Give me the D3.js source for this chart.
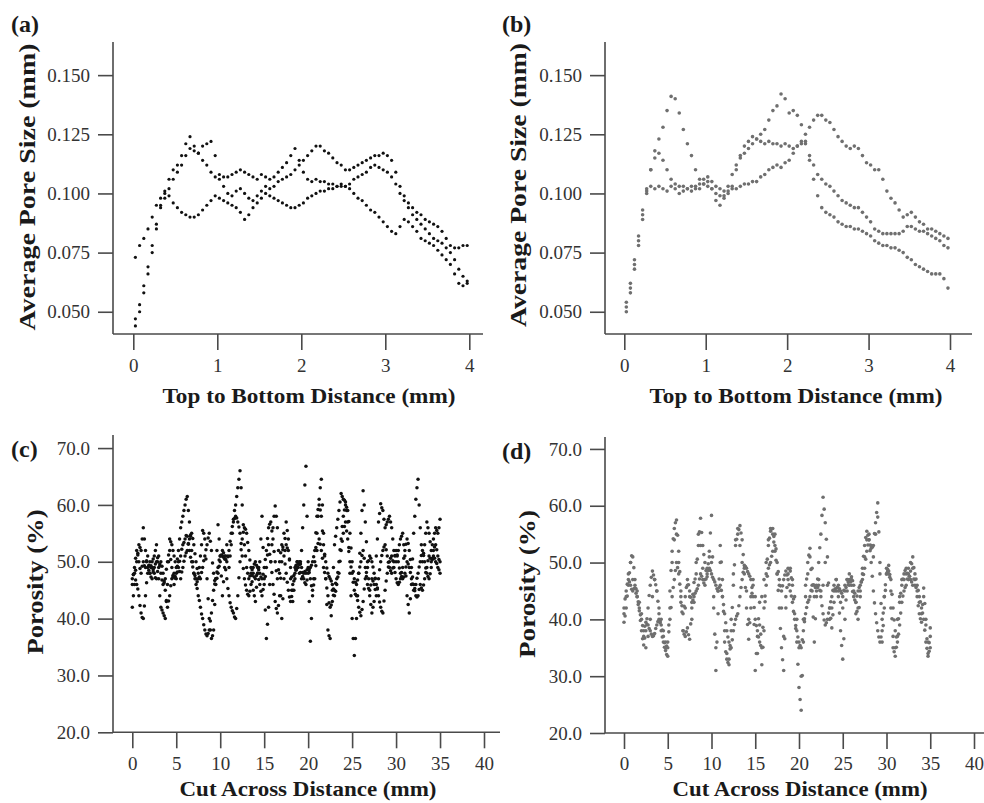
<!DOCTYPE html>
<html><head><meta charset="utf-8">
<script src="https://cdn.jsdelivr.net/npm/d3@7"></script>
<style>body{margin:0;background:#fff}svg{display:block}</style>
</head><body>
<svg id="chart" width="984" height="803"></svg>
<script>
// ---------- DATA ----------
// Panels (a),(b): sampled every 0.05 mm starting at 0.025 mm
const poreXStart = 0.025, poreXStep = 0.05;
const poreA1 = [0.044,0.050,0.058,0.066,0.075,0.085,0.095,0.101,0.106,0.110,0.112,0.116,0.121,0.124,0.120,0.117,0.114,0.112,0.109,0.107,
0.106,0.107,0.107,0.108,0.109,0.110,0.109,0.108,0.107,0.106,0.108,0.107,0.106,0.107,0.109,0.111,0.113,0.116,0.119,0.114,
0.109,0.106,0.105,0.106,0.105,0.105,0.104,0.104,0.103,0.104,0.103,0.102,0.100,0.098,0.097,0.095,0.093,0.092,0.090,0.088,
0.086,0.084,0.083,0.086,0.089,0.088,0.086,0.084,0.081,0.080,0.079,0.078,0.076,0.074,0.072,0.070,0.066,0.062,0.061,0.063];
const poreA2 = [0.047,0.053,0.061,0.069,0.078,0.087,0.094,0.098,0.102,0.106,0.109,0.112,0.116,0.119,0.118,0.117,0.120,0.121,0.122,0.116,
0.108,0.103,0.100,0.099,0.101,0.102,0.100,0.098,0.097,0.099,0.101,0.103,0.102,0.103,0.105,0.106,0.107,0.108,0.110,0.112,
0.114,0.116,0.118,0.120,0.120,0.118,0.117,0.115,0.113,0.112,0.110,0.110,0.111,0.112,0.113,0.114,0.115,0.116,0.116,0.117,
0.116,0.114,0.109,0.103,0.099,0.096,0.094,0.092,0.091,0.089,0.088,0.087,0.086,0.084,0.081,0.078,0.077,0.077,0.078,0.078];
const poreA3 = [0.073,0.078,0.081,0.085,0.090,0.095,0.098,0.100,0.099,0.096,0.094,0.092,0.091,0.090,0.090,0.091,0.093,0.095,0.097,0.099,
0.098,0.097,0.096,0.095,0.094,0.092,0.089,0.091,0.094,0.096,0.098,0.100,0.099,0.098,0.097,0.096,0.095,0.094,0.094,0.095,
0.096,0.098,0.099,0.100,0.101,0.101,0.102,0.102,0.103,0.103,0.103,0.104,0.106,0.107,0.108,0.109,0.111,0.112,0.111,0.110,
0.109,0.107,0.104,0.100,0.097,0.094,0.091,0.089,0.087,0.085,0.083,0.081,0.080,0.079,0.077,0.075,0.072,0.068,0.065,0.062];
const poreB1 = [0.050,0.058,0.068,0.078,0.089,0.100,0.110,0.118,0.123,0.128,0.135,0.141,0.140,0.134,0.127,0.121,0.116,0.110,0.106,0.104,
0.103,0.102,0.100,0.099,0.099,0.101,0.102,0.102,0.103,0.104,0.104,0.105,0.105,0.107,0.108,0.110,0.111,0.112,0.111,0.113,
0.114,0.117,0.120,0.121,0.121,0.116,0.112,0.108,0.106,0.104,0.103,0.101,0.099,0.097,0.096,0.095,0.094,0.094,0.092,0.090,
0.088,0.085,0.084,0.083,0.083,0.083,0.083,0.083,0.084,0.086,0.086,0.085,0.084,0.084,0.083,0.082,0.081,0.080,0.078,0.077];
const poreB2 = [0.052,0.060,0.070,0.080,0.091,0.102,0.110,0.115,0.117,0.114,0.110,0.106,0.104,0.103,0.101,0.102,0.103,0.102,0.104,0.106,
0.105,0.102,0.097,0.095,0.098,0.103,0.108,0.112,0.115,0.117,0.119,0.121,0.123,0.125,0.127,0.131,0.135,0.137,0.142,0.140,
0.134,0.135,0.133,0.129,0.122,0.114,0.106,0.099,0.094,0.092,0.091,0.090,0.088,0.087,0.086,0.086,0.085,0.085,0.084,0.083,
0.082,0.080,0.079,0.078,0.078,0.077,0.077,0.076,0.075,0.073,0.072,0.070,0.069,0.068,0.067,0.066,0.066,0.066,0.064,0.060];
const poreB3 = [0.054,0.062,0.072,0.082,0.093,0.101,0.103,0.102,0.103,0.102,0.101,0.103,0.102,0.100,0.103,0.102,0.101,0.103,0.102,0.104,
0.107,0.105,0.103,0.102,0.101,0.100,0.103,0.110,0.116,0.120,0.122,0.124,0.123,0.122,0.121,0.122,0.121,0.121,0.120,0.121,
0.120,0.119,0.120,0.122,0.125,0.128,0.131,0.133,0.133,0.131,0.130,0.127,0.124,0.122,0.120,0.119,0.120,0.119,0.116,0.113,
0.112,0.110,0.110,0.106,0.101,0.098,0.096,0.093,0.090,0.091,0.092,0.090,0.088,0.087,0.085,0.085,0.084,0.083,0.082,0.081];

// Panels (c),(d): sampled every 0.125 mm (fine) or 0.25 mm (coarse) from 0 to 35 mm
const porXStart = 0, porFineStep = 0.125, porCoarseStep = 0.25;
const porC1 = [42,44,46,48.5,50,51.5,53,52.5, 52,54,56,54,52,50,49,48.5, 48,49,50,50.5,51,52,53,50, 47,44,42,41.5,41,40.5,40,43,
46,50,54,53.5,53,52,51,50, 49,50.5,52,54,56,57,58,59, 60,61,61.5,59,57,54.5,52,50, 48,47,46,46.5,47,49,51,53,
55.5,55,54,50.5,47,43.5,40,38, 36.5,37,38,42.5,47,52,56.5,54, 51,47.5,44,46.5,49,51,53,51, 49,51,53,55,57.5,59,60,61.5,
63,64.5,66,63,60,56.5,53,51, 49,48,47,47.5,48,46.5,45,44, 43,45.5,48,49,50,54,58,52.5, 47,41.5,36.5,39,42,46,50,53,
56,58,59.8,58,56,52,48,44, 40,43.5,47,52,57,55.5,54,50.5, 47,45,43,45,47,48.5,50,49, 48,50,52,56,60,63.5,66.8,58,
50,43,36,40,44,47,50,52.5, 55,58,61,63,64.5,60,55,51, 47,42.5,38,37,36.5,40.5,45,49, 53,54.5,56,57.5,59,60.5,62,61.5,
61,60.8,60.5,59,57,52.5,48,44, 40,36.5,33.5,36.5,40,44,48,51.5, 55,59,62.5,60,57,53.5,50,47, 44,42.5,41,42,43,47,51,54,
57,58.5,60.2,59.5,59,57.5,56,56.5, 57,57.5,58,57,56,54,52,51, 50,51,52,53,54,54.5,55,53, 51,47.5,44,42.5,41,43.5,46,50.5,
55,58,61,63,64.5,60,56,53, 50,51.5,53,55,57,56,55,53.5, 52,53,54,55,56,55.5,55,56, 57.5];
const porC2 = [47,47.8,48,46.8,46,45.2,44,42.3, 41,40.2,40,42.2,44,46.3,48,49.2, 50,49.3,49,48.6,48,47.2,47,48.3, 49,49.6,50,49.2,48,46.3,45,43.2,
42,43.1,44,45.8,47,47.6,48,47.4, 47,48.2,49,50.1,51,52.2,53,53.4, 54,54.6,54.5,53.1,52,50.8,50,49.1, 48,47.6,47,45.3,44,43.2,42,40.8,
40,38.9,38,37.3,37,37.4,38,39.6, 41,43.2,45,46.1,47,48.2,49,50.3, 51,51.2,51,50.8,50.5,48.6,47,45.3, 44,42.8,42,41.4,41,40.3,40,41.8,
44,47.2,50,52.1,54,55.2,56,55.7, 55,53.4,52,50.3,49,48.6,48,47.3, 47,47.6,48,46.9,46,44.8,44,45.1, 46,47.4,49,51.2,53,51.3,50,48.1,
46,44.3,43,41.8,41,42.3,44,47.1, 50,52.6,55,54.1,53,52.4,52,50.3, 49,47.3,46,47.6,49,49.4,50,49.8, 49.5,48.1,47,47.4,48,48.3,48,48.6,
49,48.1,47,45.8,45,45.9,47,49.3, 52,53.2,54,53.1,52,50.6,49,48.1, 47,45.4,44,42.8,42,42.4,43,44.1, 45,46.2,47,47.3,48,50.1,52,53.6,
55,56.2,57,55.4,54,51.8,50,49.1, 48,46.4,45,44.3,44,43.2,42,41.1, 40.5,41.6,43,45.2,47,48.1,49,50.2, 51,50.6,50,49.1,48,47.1,46,45.2,
44,42.9,42,41.3,41,43.1,45,46.6, 48,49.1,50,50.6,51,50.2,49,48.1, 47,46.3,46,46.4,47,48.1,49,50.6, 52,53.1,54,53.2,52,50.4,49,47.3,
46,44.9,44,43.8,44,45.1,46,45.4, 45,45.9,47,48.1,49,50.2,51,50.6, 50,50.4,51,50.6,50,49.7,49,48.6, 48];
const porC3 = [46,47.7,49,50.6,52,51.2,50,48.8, 48,49.2,50,49.3,49,50.2,51,49.4, 48,47.3,47,48.2,49,49.6,50,50.7, 51,49.3,48,46.8,46,46.6,47,48.7,
50,51.2,52,50.4,49,47.3,46,47.1, 48,49.2,50,48.3,47,48.2,49,50.1, 51,51.6,52,53.2,54,54.7,55,54.1, 53,51.4,50,48.8,48,47.3,47,48.1,
49,50.2,51,52.1,53,54.2,55,53.6, 52,49.8,48,46.7,46,47.1,48,49.2, 50,51.1,52,51.6,51,50.4,50,50.9, 52,53.6,55,56.2,57,57.6,58,57.7,
57,56.1,55,53.2,51,48.8,47,45.9, 45,44.3,44,44.8,46,47.6,49,49.6, 50,49.4,49,48.6,48,47.3,47,47.8, 49,50.4,52,54.1,56,56.6,57,55.4,
54,51.8,50,48.4,47,48.6,50,51.6, 53,52.1,51,49.6,48,46.4,45,43.8, 43,43.9,45,46.6,48,48.7,49,49.6, 50,49.6,49,48.1,47,46.3,46,46.8,
48,48.6,49,49.4,50,50.9,52,55.1, 58,59.2,60,59.1,58,55.4,53,51.3, 50,48.9,48,47.4,47,46.6,46,45.2, 44,44.8,46,48.1,50,52.1,54,56.2,
58,59.1,60,59.6,59,57.1,55,52.4, 50,48.3,47,46.4,46,46.8,48,49.1, 50,51.1,52,50.6,49,47.4,46,45.3, 45,45.9,47,46.6,46,45.1,44,45.4,
47,48.6,50,51.1,52,52.6,53,52.1, 51,49.9,49,48.4,48,48.9,50,51.1, 52,51.2,50,48.9,48,47.4,47,47.3, 48,49.1,50,49.6,49,48.1,47,46.1,
45,45.3,46,47.1,48,49.1,50,51.1, 52,51.1,50,48.9,48,47.4,47,47.9, 49,50.6,52,52.6,53,52.1,51,50.4, 50];
const porD1 = [39.5,40.6,42,44.1,46,48.2,50,51.2, 51,49.1,47,45.4,44,42.6,41.5,39.8, 38,36.6,35.5,36.7,38,40.1,42,44.2, 46,47.4,48.5,47.8,47,46.1,45,43.2,
41,39.4,38,36.9,36,35.1,34.5,33.8, 33.5,39,45,48.6,52,54.2,56,57, 57.5,54.8,52,48.4,45,41.3,38,37.4, 37,37.8,38.5,37.3,36.5,39.2,42,44.4,
46.5,47.1,48,50.6,53,55.4,57.8,55.3, 53,51.4,50,48.6,47.5,49.8,52,55.2, 58.3,51,44,37.4,31,36,41,47.1, 53,50.1,47,41.4,36,34.3,33,32.4,
32,34.8,38,42.1,46,49.6,53,54.1, 55,55.8,56.5,55.2,54,51.4,49,45.6, 42,39.1,36.5,39.4,42,44.6,47,39.1, 31,34,37,40.1,43,37.4,32,35.1,
38,43.1,48,50.6,53,54.3,55.5,55.9, 56,54.6,53,50.4,48,45.1,42,38.4, 35,32.9,31,36.6,42,45.6,49,48.9, 48.5,47.3,46,43.6,41,38.4,36,32.1,
28,25.9,24,30.1,36,40.1,44,47.1, 50,51.3,52.5,48.8,45,40.4,36,40.1, 44,47.1,50,52.6,55,58.3,61.5,59.4, 57,54.1,51,46.4,42,40.2,38.5,40.8,
43,45.1,47,45.6,44,41.1,38,35.4, 33,36.6,40,43.4,47,46.6,46,46.8, 47.5,46.8,46,44.6,43,41.4,40,42.1, 44,46.6,49,51.1,53,54.4,55.5,54.8,
54,53.1,52.5,52.7,53,55.1,57,58.8, 60.5,55.4,50,42.8,36,38.9,42,45.1, 48,48.8,49.5,47.4,45,40.1,35,34.3, 33.5,35.1,37,40.1,43,44.6,46,47.1,
48,48.6,49,48.1,47,47.6,48.5,49.8, 51,49.1,47,45.6,44,42.4,41,40.1, 39.5,42.6,45.5,42.8,40,36.6,33.5,35.9, 38.5];
const porD2 = [42,43.6,45,46.2,47,46.6,46,45.3, 45,45.4,45.5,44.6,44,43.1,42,40.8, 40,38.9,38,38.8,39.5,39.1,39,38.4, 38,37.4,37,37.1,37.5,38.4,39,39.6,
40,39.6,39,38.1,37,35.9,35,35.3, 36,37.8,40,42.1,44,45.6,47,48.6, 50,49.1,48,46.2,44,42.4,41,42.3, 44,45.6,47,46.1,45,43.9,43,43.4,
44,44.6,45,45.4,46,47.1,48,47.6, 47,46.4,46,47.1,48,48.6,49,48.6, 48,47.4,47,46.6,46,45.4,45,45.6, 46,45.1,44,42.6,41,39.4,38,36.9,
36,35.4,35,36.4,38,39.1,40,40.6, 41,42.4,44,45.6,47,48.3,49.5,49.3, 49,48.4,48,47.6,47,45.6,44,42.1, 40,38.9,38,36.9,36,35.4,35,38.6,
42,44.1,46,47.6,49,49.6,50,51.1, 52,53.6,55,52.4,50,48.4,47,45.9, 45,45.9,47,47.8,48.5,47.8,47,46.1, 45,44.1,43,41.4,40,38.9,38,36.9,
36,35.4,35,36.4,38,39.6,41,42.1, 43,43.4,44,45.1,46,46.1,46,45.6, 45,45.6,46,45.1,44,42.4,41,39.9, 39,39.4,40,41.1,42,43.1,44,45.1,
46,45.4,45,45.6,46,45.4,45,44.6, 44,45.1,46,45.6,45,46.1,47,46.6, 46,44.9,44,43.4,43,44.1,45,45.6, 46,46.6,47,47.9,49,50.6,52,53.1,
54,52.1,50,47.6,45,42.9,41,39.4, 38,36.9,36,36.9,38,41.1,44,46.1, 48,48.4,48.5,47.9,47,44.4,42,39.9, 38,36.9,36,37.4,39,41.1,43,44.1,
45,45.6,46,47.1,48,47.6,47,46.6, 46,47.1,48,47.1,46,45.1,44,43.1, 42,41.1,40,38.1,36,34.9,34,34.4, 35];
const porD3 = [41,44,48,50, 47,46,45,43, 41,37,35,37, 40,44,47,45, 42,40,38,36, 35,42,50,54, 55,50,43,38, 42,46,44,40,
43,50,55,53, 49,47,49,51, 50,42,35,45, 50,44,38,34, 33,40,48,54, 56,53,50,48, 45,40,44,46, 44,34,39,44,
47,50,54,56, 55,52,48,46, 42,37,44,48, 49,47,44,40, 35,30,40,46, 48,51,49,44, 46,47,45,46, 50,46,40,42,
45,47,45,43, 42,45,47,48, 47,45,41,42, 45,48,51,54, 55,53,51,55, 58,48,40,44, 49,48,42,37, 35,40,44,47,
47,48,49,50, 49,46,45,43, 41,44,39,36, 37];

// Ticks and labels
const poreYTicks = [0.050,0.075,0.100,0.125,0.150];
const poreXTicks = [0,1,2,3,4];
const porYTicks = [20,30,40,50,60,70];
const porXTicks = [0,5,10,15,20,25,30,35,40];
const panelTags = ["(a)","(b)","(c)","(d)"];
const poreYTitle = "Average Pore Size (mm)";
const poreXTitle = "Top to Bottom Distance (mm)";
const porYTitle = "Porosity (%)";
const porXTitle = "Cut Across Distance (mm)";

// ---------- DRAW ----------
const svg = d3.select("#chart");
const SERIF = "'Liberation Serif','Times New Roman',serif";
const AX = "#4a4a4a";

function toPoints(vals, x0, dx){ return vals.map((v,i)=>({x:x0+i*dx, y:v})); }

function panel(cfg){
  const g = svg.append("g");
  const x = d3.scaleLinear().domain(cfg.xDomain).range(cfg.xRange);
  const y = d3.scaleLinear().domain(cfg.yDomain).range(cfg.yRange);
  const y0 = cfg.yRange[0];
  g.append("line").attr("x1",cfg.axisX).attr("x2",cfg.axisX).attr("y1",cfg.yRange[1]).attr("y2",y0)
    .attr("stroke",AX).attr("stroke-width",1.6);
  g.append("line").attr("x1",cfg.axisX).attr("x2",cfg.xEnd).attr("y1",y0).attr("y2",y0)
    .attr("stroke",AX).attr("stroke-width",1.6);
  const ya = g.append("g").attr("transform",`translate(${cfg.axisX},0)`)
    .call(d3.axisLeft(y).tickValues(cfg.yTicks).tickFormat(cfg.yFmt).tickSize(15).tickPadding(8));
  const xa = g.append("g").attr("transform",`translate(0,${y0})`)
    .call(d3.axisBottom(x).tickValues(cfg.xTicks).tickFormat(d3.format("d")).tickSize(16).tickPadding(cfg.xPad));
  [ya,xa].forEach(a=>{
    a.select(".domain").remove();
    a.selectAll(".tick line").attr("stroke",AX).attr("stroke-width",1.6);
    a.selectAll(".tick text").attr("fill","#333").style("font-family",SERIF).style("font-size","19px");
  });
  cfg.series.forEach(s=>{
    g.append("g").selectAll("circle").data(toPoints(s.v, cfg.x0, s.dx)).join("circle")
      .attr("cx",d=>x(d.x)).attr("cy",d=>y(d.y)).attr("r",cfg.r).attr("fill",cfg.color);
  });
  const title = (sel)=>sel.style("font-family",SERIF).style("font-weight","bold").attr("fill","#1a1a1a");
  g.append("text").attr("x",cfg.xTitlePos[0]).attr("y",cfg.xTitlePos[1]).attr("text-anchor","middle")
    .style("font-size","22px").attr("textLength",cfg.xTitleLen).attr("lengthAdjust","spacingAndGlyphs")
    .call(title).text(cfg.xTitle);
  g.append("text").attr("transform",`translate(${cfg.yTitlePos[0]},${cfg.yTitlePos[1]}) rotate(-90)`)
    .attr("text-anchor","middle").attr("dominant-baseline","central")
    .style("font-size","24px").attr("textLength",cfg.yTitleLen).attr("lengthAdjust","spacingAndGlyphs")
    .call(title).text(cfg.yTitle);
  g.append("text").attr("x",cfg.tagPos[0]).attr("y",cfg.tagPos[1]).style("font-size","24px")
    .call(title).text(cfg.tag);
}

panel({tag:panelTags[0], tagPos:[11,32], x0:poreXStart,
  series:[{v:poreA1,dx:poreXStep},{v:poreA2,dx:poreXStep},{v:poreA3,dx:poreXStep}],
  xDomain:[0,4], xRange:[133.3,469.3], yDomain:[0.0406,0.164], yRange:[334,42], axisX:113, xEnd:483,
  yTicks:poreYTicks, yFmt:d3.format(".3f"), xTicks:poreXTicks, xPad:9, r:1.6, color:"#111",
  xTitle:poreXTitle, xTitlePos:[309,403], xTitleLen:293, yTitle:poreYTitle, yTitlePos:[27,187], yTitleLen:287});
panel({tag:panelTags[1], tagPos:[502,32], x0:poreXStart,
  series:[{v:poreB1,dx:poreXStep},{v:poreB2,dx:poreXStep},{v:poreB3,dx:poreXStep}],
  xDomain:[0,4], xRange:[624.3,950], yDomain:[0.0406,0.164], yRange:[334,42], axisX:605, xEnd:972,
  yTicks:poreYTicks, yFmt:d3.format(".3f"), xTicks:poreXTicks, xPad:9, r:1.8, color:"#6f6f6f",
  xTitle:poreXTitle, xTitlePos:[796,403], xTitleLen:293, yTitle:poreYTitle, yTitlePos:[518,185], yTitleLen:284});
panel({tag:panelTags[2], tagPos:[11,457], x0:porXStart,
  series:[{v:porC1,dx:porFineStep},{v:porC2,dx:porFineStep},{v:porC3,dx:porFineStep}],
  xDomain:[0,40], xRange:[132.3,484], yDomain:[20,72.3], yRange:[732.3,435], axisX:113, xEnd:500,
  yTicks:porYTicks, yFmt:d3.format(".1f"), xTicks:porXTicks, xPad:8, r:1.75, color:"#111",
  xTitle:porXTitle, xTitlePos:[308,796], xTitleLen:257, yTitle:porYTitle, yTitlePos:[35,582], yTitleLen:145});
panel({tag:panelTags[3], tagPos:[502,459], x0:porXStart,
  series:[{v:porD1,dx:porFineStep},{v:porD2,dx:porFineStep},{v:porD3,dx:porCoarseStep}],
  xDomain:[0,40], xRange:[624,974], yDomain:[20,72.1], yRange:[733,437], axisX:605, xEnd:984,
  yTicks:porYTicks, yFmt:d3.format(".1f"), xTicks:porXTicks, xPad:8, r:1.8, color:"#6f6f6f",
  xTitle:porXTitle, xTitlePos:[800,796], xTitleLen:255, yTitle:porYTitle, yTitlePos:[527,584], yTitleLen:148});
</script>
</body></html>
